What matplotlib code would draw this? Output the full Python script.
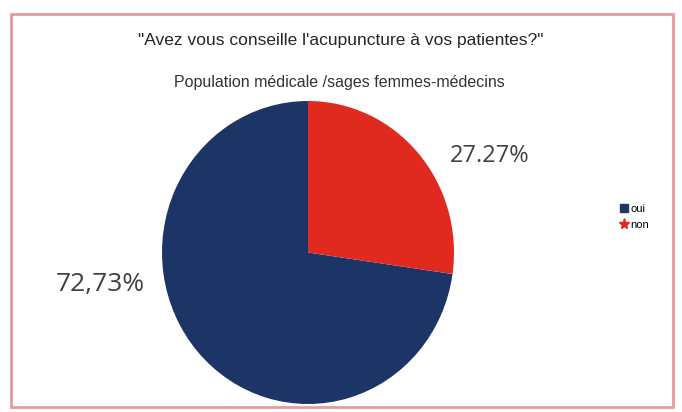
import matplotlib.pyplot as plt
from matplotlib.patches import Rectangle
from matplotlib.lines import Line2D

categories = ['oui', 'non']
values = [72.73, 27.27]
labels = ['72,73%', '27.27%']
colors = ['#1d3566', '#e02a1f']

W, H = 682, 412
fig = plt.figure(figsize=(W / 100, H / 100), dpi=100)
plt.rcParams['font.family'] = ['Liberation Sans', 'DejaVu Sans']

def fx(x):
    return x / W

def fy(y):
    return 1 - y / H

# pie axes (pixels: x 162-454, y 101-404), slightly squeezed like the scan
ax = fig.add_axes([fx(162), fy(404), 292 / W, 303 / H])
ax.pie(values, colors=colors, startangle=90, counterclock=True,
       wedgeprops=dict(linewidth=0))
ax.set_xlim(-1, 1)
ax.set_ylim(-1, 1)
ax.set_aspect('auto')

# frame
fig.patches.append(Rectangle((fx(11), fy(407)), fx(673) - fx(11), fy(14) - fy(407),
                             transform=fig.transFigure, fill=False,
                             edgecolor='#e89a9a', linewidth=2))

fig.text(fx(341), fy(40), '"Avez vous conseille l\'acupuncture à vos patientes?"',
         ha='center', va='center', fontsize=12.5, color='#262626')
fig.text(fx(339), fy(82), 'Population médicale /sages femmes-médecins',
         ha='center', va='center', fontsize=11.5, color='#333333')

fig.text(fx(100), fy(285), labels[0], ha='center', va='center',
         fontsize=19, color='#404040', family=['Open Sans', 'DejaVu Sans'])
fig.text(fx(490), fy(156), labels[1], ha='center', va='center',
         fontsize=17, color='#404040', family=['Open Sans', 'DejaVu Sans'])

handles = [Line2D([], [], marker='s', linestyle='none', markersize=6,
                  color=colors[0]),
           Line2D([], [], marker='*', linestyle='none', markersize=8,
                  color=colors[1])]
fig.legend(handles, categories, loc='center left',
           bbox_to_anchor=(fx(608), fy(217)), frameon=False, fontsize=8,
           handletextpad=0.1, labelspacing=0.5, handlelength=1)

fig.savefig('out.png', dpi=100)
